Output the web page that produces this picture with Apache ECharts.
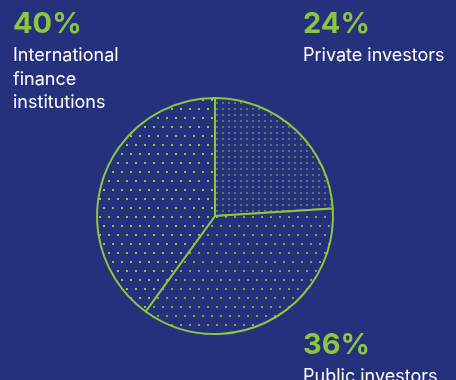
<!DOCTYPE html>
<html>
<head>
<meta charset="utf-8">
<style>
  html, body { margin: 0; padding: 0; background: #25317d; }
  #chart { width: 456px; height: 380px; }
</style>
<script src="https://cdn.jsdelivr.net/npm/echarts@6/dist/echarts.min.js"></script>
</head>
<body>
<div id="chart"></div>
<script>
// Funding sources (share of total, %)
const categories = ['Private investors', 'Public investors', 'International finance institutions'];
const shares = [24, 36, 40];
const percentLabels = ['24%', '36%', '40%'];

const BG = '#25317d';
const GREEN = '#8cc63f';

// Dotted fill tiles for each slice
function dotTile(w, h, dots, size, color) {
  const c = document.createElement('canvas');
  c.width = w; c.height = h;
  const ctx = c.getContext('2d');
  ctx.fillStyle = BG;
  ctx.fillRect(0, 0, w, h);
  ctx.fillStyle = color;
  dots.forEach(([x, y]) => ctx.fillRect(x, y, size, size));
  return c;
}
const patterns = [
  dotTile(6, 6, [[0, 0]], 2, '#5a7a55'),
  dotTile(9, 18, [[0, 0], [4, 9]], 2, '#80a83c'),
  dotTile(9, 18, [[0, 0], [4, 9]], 2, '#8fc83d')
];

const chart = echarts.init(document.getElementById('chart'), null, { renderer: 'canvas' });

// Text blocks: big percentage and the category caption
const labelSpots = [
  { x: 303, y: 10, lines: ['Private investors'] },
  { x: 303, y: 331, lines: ['Public investors'] },
  { x: 13, y: 10, lines: ['International', 'finance', 'institutions'] }
];
const graphics = [];
categories.forEach((name, i) => {
  const spot = labelSpots[i];
  graphics.push({
    type: 'text', left: spot.x, top: spot.y,
    style: { text: percentLabels[i], fill: GREEN, font: 'bold 29px Inter, Roboto, sans-serif' }
  });
  graphics.push({
    type: 'text', left: spot.x, top: spot.y + 34,
    style: { text: spot.lines.join('\n'), fill: '#ffffff', font: '18px Inter, Roboto, sans-serif', lineHeight: 23.5 }
  });
});

chart.setOption({
  backgroundColor: BG,
  animation: false,
  graphic: graphics,
  series: [{
    type: 'pie',
    center: [215, 216],
    radius: 118,
    startAngle: 90,
    clockwise: true,
    label: { show: false },
    labelLine: { show: false },
    emphasis: { disabled: true },
    itemStyle: { borderColor: GREEN, borderWidth: 2 },
    data: categories.map((name, i) => ({
      name,
      value: shares[i],
      itemStyle: { color: { image: patterns[i], repeat: 'repeat' } }
    }))
  }]
});
</script>
</body>
</html>
